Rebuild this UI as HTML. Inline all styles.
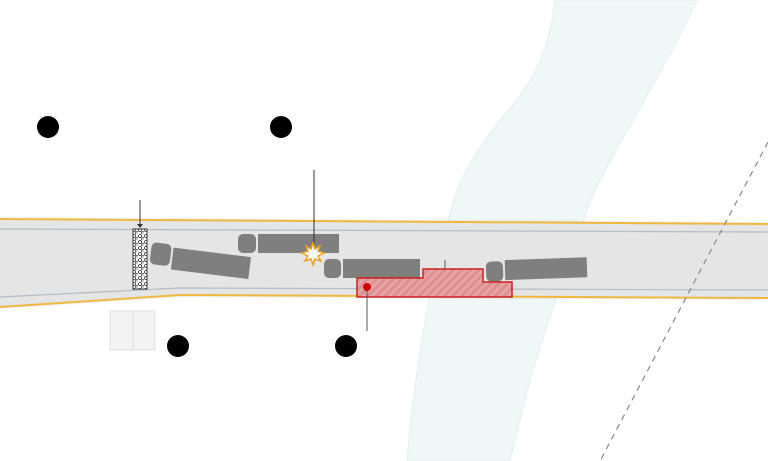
<!DOCTYPE html>
<html><head><meta charset="utf-8"><style>html,body{margin:0;padding:0;background:#fff}svg{display:block}</style></head>
<body>
<svg width="768" height="461" viewBox="0 0 768 461" xmlns="http://www.w3.org/2000/svg">
<defs>
<pattern id="h" width="6" height="6" patternUnits="userSpaceOnUse" patternTransform="rotate(45)">
<rect width="6" height="6" fill="#e8a4a4"/><rect width="3" height="6" fill="#dc8f8f"/></pattern>
<pattern id="b" width="6" height="6" patternUnits="userSpaceOnUse">
<rect width="6" height="6" fill="#fff"/><circle cx="2" cy="2" r="1.6" fill="none" stroke="#333" stroke-width="0.8"/><circle cx="5" cy="5" r="1.4" fill="none" stroke="#333" stroke-width="0.8"/></pattern>
<filter id="s"><feDropShadow dx="0" dy="0" stdDeviation="1.5" flood-opacity="0.25"/></filter>
</defs>
<path d="M555,0 L697,0 C670,60 620,140 595,190 C575,240 545,330 530,380 L510,461 L407,461 C412,400 425,300 447,225 C455,190 465,165 500,120 C530,85 548,60 555,0 Z" fill="#eff7f7" stroke="#e3efef" stroke-width="1"/>
<path d="M0,219 L768,224 L768,298 L180,295 L0,307 Z" fill="#e5e5e5" filter="url(#s)"/>
<path d="M0,219 L768,224" stroke="#f0b840" stroke-width="2" fill="none"/>
<path d="M0,307 L180,295 L768,298" stroke="#f0b840" stroke-width="2" fill="none"/>
<path d="M0,229 L768,232" stroke="#b4bcc4" stroke-width="1.2" fill="none"/>
<path d="M0,297 L180,288 L768,290" stroke="#b4bcc4" stroke-width="1.2" fill="none"/>
<path d="M768,142 L600,461" stroke="#888" stroke-width="1.2" stroke-dasharray="6,5" fill="none"/>
<rect x="133" y="229" width="14" height="60" fill="url(#b)" stroke="#333" stroke-width="1"/>
<line x1="140" y1="200" x2="140" y2="226" stroke="#333"/><path d="M137,224 L143,224 L140,228Z" fill="#333"/>
<g fill="#7f7f7f">
<g transform="rotate(7 200 262)"><rect x="150" y="248" width="20" height="22" rx="5"/><rect x="172" y="251" width="78" height="22"/></g>
<rect x="238" y="234" width="18" height="19" rx="5"/><rect x="258" y="234" width="81" height="19"/>
<rect x="324" y="259" width="17" height="19" rx="5"/><rect x="343" y="259" width="77" height="19"/>
<g transform="rotate(-2 536 269)"><rect x="486" y="260" width="17" height="20" rx="5"/><rect x="505" y="259" width="82" height="20"/></g>
</g>
<path d="M357,278 L423,278 L423,269 L483,269 L483,282 L512,282 L512,297 L357,297 Z" fill="url(#h)" stroke="#cc2020" stroke-width="1.5"/>
<line x1="445" y1="260" x2="445" y2="269" stroke="#556"/>
<line x1="367" y1="287" x2="367" y2="331" stroke="#556"/>
<circle cx="367" cy="287" r="4" fill="#c00"/>
<line x1="314" y1="170" x2="314" y2="250" stroke="#333"/>
<polygon points="313,243 315,249 320,246 318,251 324,253 318,256 321,261 315,259 313,265 311,259 305,261 308,256 302,253 308,251 306,246 311,249" fill="#fff" stroke="#f0a020" stroke-width="1.5"/>
<rect x="110" y="311" width="45" height="39" fill="#f3f3f3" stroke="#e0e0e0"/><line x1="133" y1="311" x2="133" y2="350" stroke="#ddd"/>
<g fill="#000"><circle cx="48" cy="127" r="11"/><circle cx="281" cy="127" r="11"/><circle cx="178" cy="346" r="11"/><circle cx="346" cy="346" r="11"/></g>
</svg>
</body></html>
